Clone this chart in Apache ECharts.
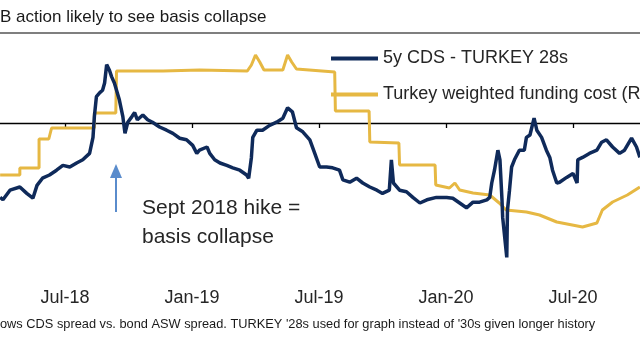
<!DOCTYPE html>
<html><head><meta charset="utf-8">
<script src="https://cdn.jsdelivr.net/npm/echarts@6/dist/echarts.min.js"></script>
<style>html,body{margin:0;padding:0;background:#fff}#c{width:640px;height:360px}</style>
</head><body><div id="c"></div>
<script>
const titleText = 'B action likely to see basis collapse';
const footnoteText = "ows CDS spread vs. bond ASW spread. TURKEY '28s used for graph instead of '30s given longer history";
const annotationText = 'Sept 2018 hike =\nbasis collapse';
const seriesNames = ['5y CDS - TURKEY 28s', 'Turkey weighted funding cost (RHS)'];
const tickLabels = ['Jan-18','Jul-18','Jan-19','Jul-19','Jan-20','Jul-20','Jan-21'];

const cdsDates = ['2018-03-30','2018-04-03','2018-04-13','2018-04-27','2018-05-07','2018-05-16','2018-05-22','2018-05-30','2018-06-09','2018-06-19','2018-06-28','2018-07-08','2018-07-18','2018-07-27','2018-08-06','2018-08-11','2018-08-13','2018-08-16','2018-08-21','2018-08-25','2018-08-28','2018-08-31','2018-09-04','2018-09-07','2018-09-11','2018-09-18','2018-09-23','2018-09-26','2018-09-30','2018-10-06','2018-10-10','2018-10-14','2018-10-22','2018-10-29','2018-11-05','2018-11-15','2018-11-25','2018-12-04','2018-12-14','2018-12-24','2019-01-02','2019-01-08','2019-01-12','2019-01-23','2019-01-27','2019-02-03','2019-02-10','2019-02-19','2019-02-27','2019-03-09','2019-03-19','2019-03-22','2019-03-26','2019-03-28','2019-04-03','2019-04-11','2019-04-21','2019-05-01','2019-05-10','2019-05-17','2019-05-24','2019-05-30','2019-06-08','2019-06-18','2019-06-25','2019-07-02','2019-07-12','2019-07-21','2019-07-31','2019-08-05','2019-08-15','2019-08-25','2019-09-03','2019-09-13','2019-09-23','2019-10-01','2019-10-11','2019-10-14','2019-10-17','2019-10-26','2019-11-05','2019-11-14','2019-11-24','2019-12-04','2019-12-18','2020-01-02','2020-01-11','2020-01-21','2020-01-31','2020-02-09','2020-02-18','2020-02-28','2020-03-03','2020-03-06','2020-03-10','2020-03-15','2020-03-18','2020-03-21','2020-03-22','2020-03-25','2020-03-28','2020-03-29','2020-04-01','2020-04-04','2020-04-08','2020-04-15','2020-04-22','2020-04-25','2020-04-30','2020-05-06','2020-05-10','2020-05-17','2020-05-24','2020-05-29','2020-06-02','2020-06-08','2020-06-12','2020-06-22','2020-07-01','2020-07-07','2020-07-08','2020-07-15','2020-07-25','2020-08-05','2020-08-12','2020-08-19','2020-08-28','2020-09-07','2020-09-14','2020-09-24','2020-10-01','2020-10-06'];
const cdsBasis = [-93,-96,-84,-80,-88,-94,-78,-69,-65,-59,-53,-55,-50,-46,-38,-18,8,33,38,41,50,73,66,58,50,29,8,-13,1,8,13,4,10,4,1,-5,-9,-13,-19,-21,-28,-38,-34,-30,-38,-46,-50,-53,-56,-59,-65,-69,-43,-18,-9,-9,-3,1,6,19,14,-6,-11,-21,-38,-55,-55,-56,-59,-71,-74,-69,-75,-80,-84,-88,-84,-46,-75,-84,-86,-93,-100,-96,-93,-93,-94,-100,-106,-99,-99,-96,-93,-75,-59,-34,-46,-96,-118,-143,-168,-109,-84,-55,-46,-34,-34,-18,-15,6,-9,-18,-34,-43,-59,-75,-74,-68,-63,-75,-46,-43,-38,-34,-24,-21,-30,-38,-34,-19,-30,-43];

const fundDates = ['2018-03-30','2018-04-27','2018-04-27','2018-05-25','2018-05-25','2018-06-08','2018-06-12','2018-08-13','2018-08-13','2018-09-13','2018-09-14','2018-11-20','2019-01-12','2019-03-20','2019-03-26','2019-04-01','2019-04-07','2019-04-13','2019-05-10','2019-05-17','2019-05-23','2019-05-30','2019-07-24','2019-07-25','2019-09-12','2019-09-13','2019-10-25','2019-10-26','2019-12-16','2019-12-17','2020-01-06','2020-01-14','2020-01-21','2020-02-09','2020-03-03','2020-03-17','2020-03-27','2020-04-25','2020-05-14','2020-06-08','2020-07-15','2020-08-05','2020-08-13','2020-08-28','2020-09-18','2020-10-06'];
const fundCost = [13.8,13.8,14.5,14.5,17.4,17.4,18.5,18.5,20.0,20.0,24.2,24.2,24.3,24.2,24.8,25.8,25.1,24.3,24.3,25.8,25.1,24.4,24.1,20.2,20.2,17.1,17.0,14.8,14.8,12.8,12.5,13.0,12.3,12.0,11.8,11.0,10.3,10.1,9.8,9.1,8.6,9.0,10.3,11.1,11.8,12.6];

function toM(s){const p=s.split('-').map(Number);const dim=new Date(Date.UTC(p[0],p[1],0)).getUTCDate();return (p[0]-2018)*12+(p[1]-1)+(p[2]-1)/dim;}
const cdsData = cdsDates.map((d,i)=>[toM(d),cdsBasis[i]]);
const fundData = fundDates.map((d,i)=>[toM(d),fundCost[i]]);

const FONT = 'Liberation Sans, Arial, sans-serif';
const BLUE = '#0f2a5a', GOLD = '#e6b843', ARROW = '#5a8ccc';
const chart = echarts.init(document.getElementById('c'), null, {renderer:'canvas'});
chart.setOption({
  animation:false,
  backgroundColor:'#fff',
  textStyle:{fontFamily:FONT},
  title:{text:titleText,left:0,top:9,padding:0,textStyle:{fontSize:17,fontWeight:'normal',color:'#1a1a1a',fontFamily:FONT}},
  legend:{orient:'vertical',left:331,top:48,padding:0,itemGap:15,itemWidth:47,itemHeight:4,icon:'rect',
    data:[seriesNames[0],seriesNames[1]],
    textStyle:{fontSize:18,color:'#262626',lineHeight:21,fontFamily:FONT}},
  grid:{left:-62,right:-60,top:43,bottom:77,containLabel:false,outerBoundsMode:'none'},
  xAxis:[
    {type:'value',min:0,max:36,interval:6,position:'bottom',
      axisLine:{onZero:true,onZeroAxisIndex:0,lineStyle:{color:'#000',width:1.3}},
      axisTick:{show:true,length:5,lineStyle:{color:'#000',width:1.3}},
      splitLine:{show:false},axisLabel:{show:false}},
    {type:'value',min:0,max:36,interval:6,position:'bottom',
      axisLine:{show:false,onZero:false},axisTick:{show:false},splitLine:{show:false},
      axisLabel:{margin:6,fontSize:18,color:'#262626',fontFamily:FONT,formatter:v=>tickLabels[Math.round(v/6)]}}
  ],
  yAxis:[{type:'value',min:-200,max:100,show:false,splitLine:{show:false}},
         {type:'value',min:3,max:27,show:false,splitLine:{show:false}}],
  series:[
    {name:seriesNames[1],type:'line',xAxisIndex:0,yAxisIndex:1,data:fundData,showSymbol:false,symbol:'none',
      lineStyle:{color:GOLD,width:3},itemStyle:{color:GOLD},z:2},
    {name:seriesNames[0],type:'line',xAxisIndex:0,yAxisIndex:0,data:cdsData,showSymbol:false,symbol:'none',
      lineStyle:{color:BLUE,width:3.5},itemStyle:{color:BLUE},z:3}
  ],
  graphic:[
    {type:'line',shape:{x1:0,y1:33,x2:640,y2:33},style:{stroke:'#7f7f7f',lineWidth:2}},
    {type:'line',shape:{x1:116,y1:212,x2:116,y2:176},style:{stroke:ARROW,lineWidth:2}},
    {type:'polygon',shape:{points:[[116,164],[110,178],[122,178]]},style:{fill:ARROW}},
    {type:'text',left:142,top:194,style:{text:annotationText,fontSize:21,lineHeight:29,fill:'#262626',fontFamily:FONT}},
    {type:'text',left:0,top:318,style:{text:footnoteText,fontSize:12.8,fill:'#1a1a1a',fontFamily:FONT}}
  ]
});
</script></body></html>
